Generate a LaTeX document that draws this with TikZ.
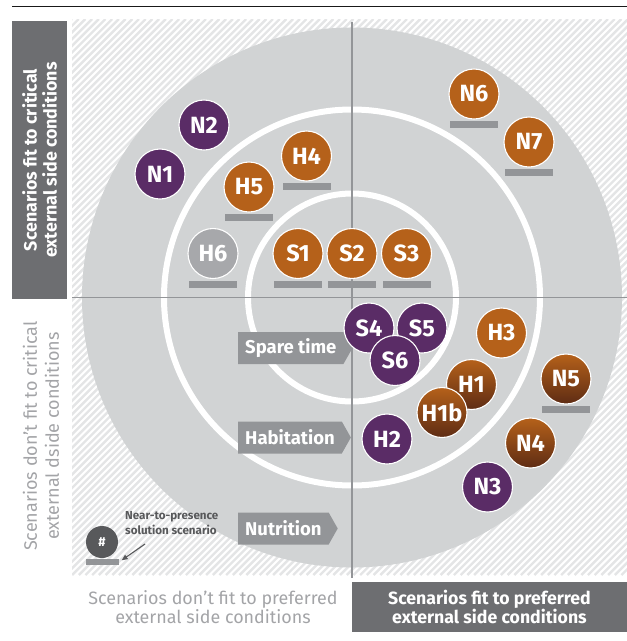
\documentclass[tikz,border=0pt]{standalone}
\usepackage{fontspec}
\setmainfont{Fira Sans}
\usetikzlibrary{shapes.symbols,positioning,arrows.meta}

\definecolor{discgray}{HTML}{D1D3D4}
\definecolor{hatchgray}{HTML}{E4E5E6}
\definecolor{bargray}{HTML}{939598}
\definecolor{boxgray}{HTML}{6D6E71}
\definecolor{textgray}{HTML}{A3A4A7}
\definecolor{darkgray}{HTML}{58595B}
\definecolor{scpurple}{HTML}{5A2C66}
\definecolor{scorange}{HTML}{B5611A}
\definecolor{scbrown}{HTML}{5E2C14}
\definecolor{scgray}{HTML}{A7A8AB}

\tikzset{
  bubble/.style={circle, minimum size=50pt, inner sep=0pt, draw=white, line width=1.1pt,
    text=white, font=\bfseries\fontsize{23.5}{23.5}\selectfont},
  purplebub/.style={bubble, fill=scpurple},
  orangebub/.style={bubble, fill=scorange},
  gradbub/.style={bubble, top color=scorange, bottom color=scbrown},
  greybub/.style={bubble, fill=scgray},
  scbar/.style={rectangle, fill=bargray, minimum width=48pt, minimum height=7pt, inner sep=0pt},
  areabox/.style={signal, signal to=east, signal pointer angle=121, fill=bargray, text=white,
    minimum height=32pt, inner xsep=7pt, inner ysep=0pt, anchor=west,
    font=\bfseries\fontsize{18.5}{18.5}\selectfont},
  hatchline/.style={hatchgray, line width=2.4pt},
  axisline/.style={bargray, line width=1.1pt},
}

\begin{document}
\begin{tikzpicture}[x=1pt, y=-1pt]
    \useasboundingbox (0,0) rectangle (627,641);

    % Top rule
    \draw [line width=1.5pt, black!90] (12,6.5) -- (627,6.5);

    % Hatched background
    \begin{scope}
        \clip (72,19) rectangle (627,575);
        \foreach \k in {0,...,166}
            \draw [hatchline] ({-484+\k*6.7},575) -- ++(556,-556);
    \end{scope}

    % Disc and rings
    \coordinate (O) at (352,297.5);
    \fill [discgray] (O) circle [radius=270pt];
    \draw [white, line width=6pt] (O) circle [radius=188pt];
    \draw [white, line width=6pt] (O) circle [radius=104pt];

    % Axes
    \draw [axisline] (352,22) -- (352,578);
    \draw [axisline] (72,297.5) -- (627,297.5);

    % Axis labels
    \node [rotate=90, fill=boxgray, text=white, align=center, minimum width=278pt,
           minimum height=55pt, font=\bfseries\fontsize{17.8}{20}\selectfont]
        (critical) at (39.5,160) {Scenarios fit to critical\\external side conditions};
    \node [rotate=90, text=textgray, align=center, font=\fontsize{18}{22}\selectfont]
        (notcritical) at (41,436) {Scenarios don’t fit to critical\\external dside conditions};
    \node [text=textgray, align=center, font=\fontsize{17.9}{19}\selectfont]
        (notpreferred) at (213,607) {Scenarios don’t fit to preferred\\external side conditions};
    \node [fill=boxgray, text=white, align=center, minimum width=275pt, minimum height=50pt,
           font=\bfseries\fontsize{17.7}{19}\selectfont]
        (preferred) at (489.5,607) {Scenarios fit to preferred\\external side conditions};

    % Areas
    \node [areabox] (spare) at (238,348) {Spare time};
    \node [areabox] (habit) at (238,437.5) {Habitation};
    \node [areabox] (nutri) at (238,528.5) {Nutrition};

    % Scenarios, upper half
    \node [purplebub] (N1) at (160,174) {N1};
    \node [purplebub] (N2) at (204,125) {N2};
    \node [orangebub] (H4) at (306.5,156) {H4};
    \node [orangebub] (H5) at (249,187) {H5};
    \node [greybub]   (H6) at (213,253.5) {H6};
    \node [orangebub] (S1) at (298,253.5) {S1};
    \node [orangebub] (S2) at (352,253.5) {S2};
    \node [orangebub] (S3) at (406.5,253.5) {S3};
    \node [orangebub] (N6) at (474,94) {N6};
    \node [orangebub] (N7) at (529,142) {N7};

    % Scenarios, lower half
    \node [purplebub] (S4) at (369,328) {S4};
    \node [purplebub] (S5) at (422,328) {S5};
    \node [purplebub] (S6) at (395,360.5) {S6};
    \node [orangebub] (H3) at (501.5,333) {H3};
    \node [gradbub]   (H1) at (471.5,384.5) {H1};
    \node [gradbub]   (H1b) at (442,412.5) {H1b};
    \node [purplebub] (H2) at (387,439) {H2};
    \node [gradbub]   (N5) at (566,379) {N5};
    \node [gradbub]   (N4) at (530.5,443) {N4};
    \node [purplebub] (N3) at (487.5,487) {N3};

    % Bars
    \foreach \s in {H4,H5,H6,S1,S2,S3,N6,N7,N5}
        \node [scbar, below=1.5pt of \s] (\s bar) {};

    % Legend
    \node [circle, fill=darkgray, minimum size=32pt, inner sep=0pt, text=white,
           font=\bfseries\fontsize{13}{13}\selectfont] (hash) at (102,542) {\#};
    \node [scbar, minimum width=33pt, minimum height=6pt] (hashbar) at (102.5,562) {};
    \node [anchor=north west, text=darkgray, align=left, inner sep=0pt,
           font=\bfseries\fontsize{11.6}{15.5}\selectfont]
        (legend) at (125,511) {Near-to-presence\\solution scenario};
    \coordinate (legstart) at (145,544);
    \draw [darkgray, line width=1.1pt, -{Triangle[length=6pt,width=5pt]}, shorten >=3pt]
        (legstart) -- (hashbar.east);
\end{tikzpicture}
\end{document}
